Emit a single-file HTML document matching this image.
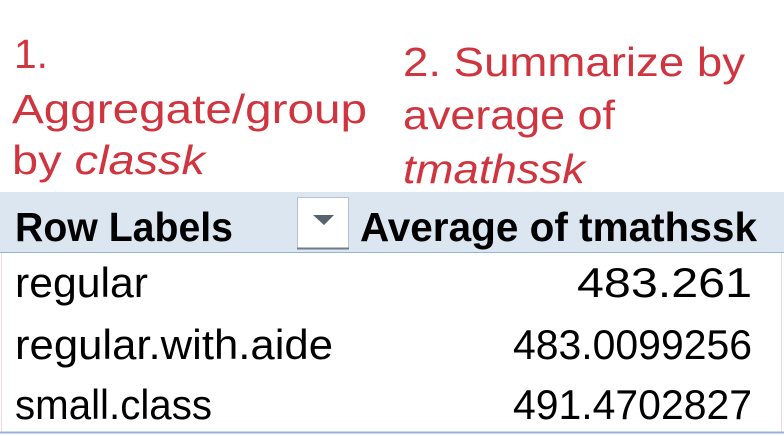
<!DOCTYPE html>
<html><head><meta charset="utf-8"><style>
html,body{margin:0;padding:0;background:#fff;width:784px;height:436px;overflow:hidden}
svg{display:block}
.red{fill:#d0343f;font-family:"Liberation Sans",sans-serif;font-size:41px}
.hd{fill:#000;font-family:"Liberation Sans",sans-serif;font-weight:bold;font-size:41px}
.cell{fill:#000;font-family:"Liberation Sans",sans-serif;font-size:42px}
</style></head><body>
<svg id="chart" width="784" height="436" viewBox="0 0 784 436">
  <text class="red" x="14" y="68" textLength="34" lengthAdjust="spacingAndGlyphs">1.</text>
  <text class="red" x="12" y="123" textLength="355" lengthAdjust="spacingAndGlyphs">Aggregate/group</text>
  <text class="red" x="12" y="174" textLength="193" lengthAdjust="spacingAndGlyphs">by <tspan font-style="italic">classk</tspan></text>
  <text class="red" x="403" y="76" textLength="342" lengthAdjust="spacingAndGlyphs">2. Summarize by</text>
  <text class="red" x="403" y="129" textLength="212" lengthAdjust="spacingAndGlyphs">average of</text>
  <text class="red" x="403" y="183" textLength="182" lengthAdjust="spacingAndGlyphs" font-style="italic">tmathssk</text>

  <rect x="0" y="192" width="784" height="60" fill="#dce6f1"/>
  <line x1="0" y1="252.5" x2="784" y2="252.5" stroke="#95b3d7" stroke-width="1"/>
  <line x1="1.5" y1="253" x2="1.5" y2="432" stroke="#ecd9dc" stroke-width="1"/>
  <line x1="781.5" y1="253" x2="781.5" y2="432" stroke="#ecd9dc" stroke-width="1"/>
  <text class="hd" x="15" y="241" textLength="218" lengthAdjust="spacingAndGlyphs">Row Labels</text>
  <g>
    <rect x="297.5" y="197.5" width="51" height="51" fill="#fff" stroke="#b8c2cc"/>
    <line x1="297" y1="248.5" x2="349" y2="248.5" stroke="#6f7b88" stroke-width="2"/>
    <polygon points="313,215 334,215 324,225" fill="#58626e"/>
  </g>
  <text class="hd" x="757" y="241" text-anchor="end" textLength="397" lengthAdjust="spacingAndGlyphs">Average of tmathssk</text>
  <g id="rows"></g>
  <line x1="0" y1="432.5" x2="784" y2="432.5" stroke="#95b3d7" stroke-width="2"/>
</svg>
<script>
const categories = ["regular", "regular.with.aide", "small.class"];
const values = ["483.261", "483.0099256", "491.4702827"];
const labelWidths = [133, 318, 197];
const valueWidths = [175, 239, 239];
const baselines = [297, 359, 419];
const g = document.getElementById('rows');
const NS = 'http://www.w3.org/2000/svg';
categories.forEach((c, i) => {
  const t = document.createElementNS(NS, 'text');
  t.setAttribute('class', 'cell');
  t.setAttribute('x', 15);
  t.setAttribute('y', baselines[i]);
  t.setAttribute('textLength', labelWidths[i]);
  t.setAttribute('lengthAdjust', 'spacingAndGlyphs');
  t.textContent = c;
  
  
  g.appendChild(t);
  const v = document.createElementNS(NS, 'text');
  v.setAttribute('class', 'cell');
  v.setAttribute('x', 752);
  v.setAttribute('y', baselines[i]);
  v.setAttribute('text-anchor', 'end');
  v.setAttribute('textLength', valueWidths[i]);
  v.setAttribute('lengthAdjust', 'spacingAndGlyphs');
  v.textContent = values[i];
  
  
  g.appendChild(v);
});
</script>
</body></html>
